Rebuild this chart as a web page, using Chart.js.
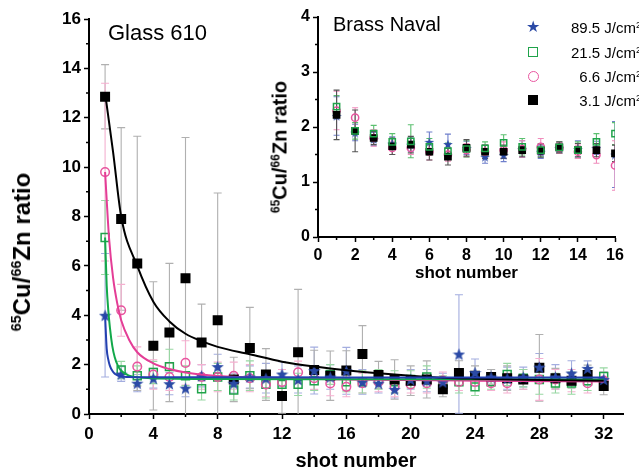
<!DOCTYPE html>
<html lang="en">
<head>
<meta charset="UTF-8">
<title>Cu/Zn ratio vs shot number</title>
<script src="https://cdn.jsdelivr.net/npm/chart.js"></script>
<style>
  body { margin: 0; background: #fff; font-family: Arial, "Liberation Sans", sans-serif; }
  #wrap { position: relative; width: 639px; height: 474px; overflow: hidden; background: #fff; }
  #mainChart, #insetChart { position: absolute; top: 0; }
  #mainChart { left: 0; }
  #insetChart { left: 290px; }
  .ytitle {
    position: absolute; font-weight: bold; white-space: nowrap; color: #000;
    transform: translate(-50%, -50%) rotate(-90deg);
  }
  .ytitle sup, .lg sup { font-size: 0.6em; line-height: 0; vertical-align: 0.6em; }
  .panel { position: absolute; white-space: nowrap; color: #000; }
  .lg { position: absolute; left: 522px; width: 119px; height: 22px; display: flex; align-items: center; font-size: 15px; }
  .lg .mk { width: 22px; display: flex; justify-content: center; align-items: center; }
  .lg .txt { flex: 1; text-align: right; white-space: nowrap; }
  .sq { width: 8px; height: 8px; border: 1.5px solid #1fa34a; }
  .ci { width: 9px; height: 9px; border: 1.5px solid #e8559f; border-radius: 50%; }
  .bk { width: 10px; height: 10px; background: #000; }
  .st { color: #2b4aa6; font-size: 16px; line-height: 1; }
</style>
</head>
<body>
<div id="wrap">
  <canvas id="mainChart" width="639" height="474"></canvas>
  <canvas id="insetChart" width="349" height="290"></canvas>
  <div class="ytitle" style="left:22px; top:252px; font-size:24px;"><sup>65</sup>Cu/<sup>66</sup>Zn ratio</div>
  <div class="ytitle" style="left:280px; top:147px; font-size:20px;"><sup>65</sup>Cu/<sup>66</sup>Zn ratio</div>
  <div class="panel" style="left:108px; top:20px; font-size:22px;">Glass 610</div>
  <div class="panel" style="left:333px; top:13px; font-size:20px;">Brass Naval</div>
  <div class="lg" style="top:16px"><span class="mk"><span class="st">&#9733;</span></span><span class="txt">89.5 J/cm<sup>2</sup></span></div>
  <div class="lg" style="top:41px"><span class="mk"><span class="sq"></span></span><span class="txt">21.5 J/cm<sup>2</sup></span></div>
  <div class="lg" style="top:65px"><span class="mk"><span class="ci"></span></span><span class="txt">6.6 J/cm<sup>2</sup></span></div>
  <div class="lg" style="top:89px"><span class="mk"><span class="bk"></span></span><span class="txt">3.1 J/cm<sup>2</sup></span></div>
</div>
<script>
// ---- Glass 610 (main panel) ----
const shots = [1, 2, 3, 4, 5, 6, 7, 8, 9, 10, 11, 12, 13, 14, 15, 16,
               17, 18, 19, 20, 21, 22, 23, 24, 25, 26, 27, 28, 29, 30, 31, 32];

const glass89 = [4.0, 1.62, 1.25, 1.45, 1.23, 1.05, 1.55, 1.92, 1.25, 1.5, 1.45, 1.62, 1.4, 1.76, 1.5, 1.75,
                 1.3, 1.25, 1.0, 1.4, 1.35, 1.3, 2.43, 1.68, 1.5, 1.45, 1.5, 1.9, 1.5, 1.66, 1.85, 1.4];
const glass89Err = [2.5, 0.3, 0.35, 0.4, 0.45, 0.35, 0.45, 0.5, 0.4, 0.45, 0.6, 0.5, 0.55, 0.95, 0.5, 0.95,
                    0.5, 0.4, 0.35, 0.4, 0.45, 0.35, 2.4, 0.55, 0.3, 0.45, 0.4, 0.55, 0.5, 0.5, 0.3, 0.3];

const glass21 = [7.15, 1.78, 1.55, 1.68, 1.92, 1.55, 1.02, 1.5, 0.97, 1.55, 1.2, 1.2, 1.2, 1.35, 1.6, 1.3,
                 1.3, 1.4, 1.3, 1.4, 1.5, 1.2, 1.3, 1.1, 1.3, 1.6, 1.45, 1.4, 1.25, 1.25, 1.35, 1.52];
const glass21Err = [1.5, 0.35, 0.4, 0.45, 0.7, 0.4, 0.45, 0.55, 0.4, 0.6, 0.55, 0.45, 0.45, 0.4, 0.4, 0.4,
                    0.45, 0.4, 0.45, 0.35, 0.45, 0.35, 0.45, 0.35, 0.3, 0.45, 0.35, 0.6, 0.4, 0.45, 0.4, 0.35];

const glass66 = [9.8, 4.2, 1.92, 1.6, 1.5, 2.07, 1.5, 1.5, 1.55, 1.45, 1.2, 1.3, 1.69, 1.45, 1.24, 1.1,
                 1.25, 1.3, 1.1, 1.2, 1.25, 1.35, 1.3, 1.3, 1.25, 1.25, 1.4, 1.4, 1.4, 1.35, 1.25, 1.35];
const glass66Err = [3.6, 1.05, 0.8, 0.6, 0.55, 0.9, 0.5, 0.6, 0.55, 0.55, 0.5, 0.5, 0.45, 0.45, 0.5, 0.4,
                    0.4, 0.4, 0.4, 0.35, 0.4, 0.35, 0.35, 0.35, 0.3, 0.4, 0.4, 0.85, 0.4, 0.45, 0.4, 0.35];

const glass31 = [12.85, 7.9, 6.1, 2.76, 3.3, 5.5, 2.9, 3.8, 1.4, 2.67, 1.6, 0.73, 2.5, 1.78, 1.55, 1.76,
                 2.43, 1.58, 1.4, 1.35, 1.4, 1.0, 1.66, 1.55, 1.5, 1.45, 1.4, 1.87, 1.45, 1.35, 1.58, 1.13];
const glass31Err = [1.3, 3.7, 5.15, 2.6, 2.8, 5.7, 1.55, 5.15, 0.9, 1.65, 1.05, 0.7, 2.55, 0.8, 1.0, 0.8,
                    1.15, 0.55, 0.8, 0.6, 0.75, 0.3, 0.5, 0.4, 0.3, 0.5, 0.4, 1.35, 0.4, 0.3, 0.4, 0.35];

// fitted decay curves, sampled along the shot axis
const fit89X = [1, 1.1, 1.2, 1.3, 1.45, 1.6, 1.8, 2, 2.5, 3, 4, 8, 16, 32];
const fit89Y = [4.0, 2.65, 2.2, 1.95, 1.75, 1.63, 1.56, 1.52, 1.5, 1.49, 1.49, 1.49, 1.48, 1.48];
const fit21X = [1, 1.1, 1.2, 1.3, 1.45, 1.6, 1.8, 2, 2.5, 3, 4, 8, 16, 32];
const fit21Y = [7.15, 5.2, 4.2, 3.5, 2.75, 2.3, 1.95, 1.75, 1.55, 1.49, 1.45, 1.42, 1.41, 1.4];
const fit66X = [1, 1.25, 1.5, 1.75, 2, 2.5, 3, 4, 5, 6, 8, 12, 16, 24, 32];
const fit66Y = [9.8, 7.1, 5.5, 4.5, 3.8, 3.0, 2.5, 2.05, 1.82, 1.68, 1.54, 1.45, 1.4, 1.35, 1.32];
const fit31X = [1, 1.5, 2, 3, 4, 5, 6, 7, 8, 10, 12, 14, 16, 18, 20, 22, 24, 28, 32];
const fit31Y = [13.0, 10.6, 8.0, 6.0, 4.55, 3.75, 3.25, 2.95, 2.72, 2.42, 2.12, 1.92, 1.77, 1.65, 1.55, 1.47, 1.43, 1.38, 1.35];

const mainXTicks = [0, 4, 8, 12, 16, 20, 24, 28, 32];
const mainXMinor = [2, 6, 10, 14, 18, 22, 26, 30];
const mainYTicks = [0, 2, 4, 6, 8, 10, 12, 14, 16];
const mainYMinor = [1, 3, 5, 7, 9, 11, 13, 15];

// ---- Brass Naval (inset) ----
const brassShots = [1, 2, 3, 4, 5, 6, 7, 8, 9, 10, 11, 12, 13, 14, 15, 16];
const brass89 = [2.2, 1.9, 1.78, 1.7, 1.68, 1.73, 1.69, 1.62, 1.46, 1.49, 1.6, 1.55, 1.62, 1.6, 1.62, 1.5];
const brass89Err = [0.35, 0.15, 0.12, 0.12, 0.12, 0.18, 0.18, 0.12, 0.12, 0.12, 0.15, 0.12, 0.1, 0.15, 0.12, 0.6];
const brass21 = [2.37, 1.93, 1.88, 1.73, 1.74, 1.64, 1.56, 1.6, 1.61, 1.71, 1.64, 1.58, 1.63, 1.58, 1.73, 1.88];
const brass21Err = [0.2, 0.15, 0.15, 0.15, 0.3, 0.15, 0.15, 0.15, 0.12, 0.15, 0.15, 0.12, 0.1, 0.15, 0.15, 0.2];
const brass66 = [2.3, 2.17, 1.8, 1.62, 1.62, 1.55, 1.5, 1.58, 1.55, 1.58, 1.6, 1.64, 1.62, 1.55, 1.49, 1.3];
const brass66Err = [0.35, 0.18, 0.15, 0.12, 0.12, 0.15, 0.12, 0.12, 0.12, 0.15, 0.15, 0.15, 0.1, 0.12, 0.15, 0.45];
const brass31 = [2.22, 1.93, 1.8, 1.65, 1.68, 1.55, 1.46, 1.62, 1.55, 1.55, 1.58, 1.57, 1.63, 1.58, 1.58, 1.52];
const brass31Err = [0.45, 0.38, 0.12, 0.15, 0.15, 0.15, 0.15, 0.15, 0.12, 0.12, 0.12, 0.12, 0.1, 0.12, 0.12, 0.15];

const insetXTicks = [0, 2, 4, 6, 8, 10, 12, 14, 16];
const insetXMinor = [1, 3, 5, 7, 9, 11, 13, 15];
const insetYTicks = [0, 1, 2, 3, 4];
const insetYMinor = [0.5, 1.5, 2.5, 3.5];

const BLUE = '#2b4aa6', GREEN = '#1fa34a', PINK = '#e8559f', BLACK = '#000';

Chart.defaults.font.family = 'Arial, "Liberation Sans", sans-serif';
Chart.defaults.color = '#000';

// filled five-point star used as point style
function makeStar(size, color) {
    const c = document.createElement('canvas');
    c.width = c.height = size;
    const g = c.getContext('2d');
    const cx = size / 2, cy = size / 2 + size * 0.06, R = size / 2, r = R * 0.42;
    g.beginPath();
    for (let i = 0; i < 10; i++) {
        const a = -Math.PI / 2 + i * Math.PI / 5;
        const rad = i % 2 ? r : R;
        g.lineTo(cx + rad * Math.cos(a), cy + rad * Math.sin(a));
    }
    g.closePath();
    g.fillStyle = color;
    g.fill();
    return c;
}

function pts(xs, ys) {
    return xs.map((x, i) => ({ x: x, y: ys[i] }));
}

// vertical error bars with caps, drawn under the markers
const errorBars = {
    id: 'errorBars',
    beforeDatasetsDraw(chart, args, opts) {
        const { ctx, chartArea } = chart;
        const xs = chart.scales.x, ys = chart.scales.y;
        ctx.save();
        ctx.beginPath();
        ctx.rect(chartArea.left, chartArea.top - 2, chartArea.width, chartArea.height + 2);
        ctx.clip();
        chart.data.datasets.forEach(ds => {
            if (!ds.errors) return;
            ctx.strokeStyle = ds.errorColor;
            ctx.lineWidth = 1.1;
            ds.data.forEach((p, j) => {
                const e = ds.errors[j];
                const x = xs.getPixelForValue(p.x);
                const top = ys.getPixelForValue(p.y + e);
                const bot = ys.getPixelForValue(p.y - e);
                ctx.beginPath();
                ctx.moveTo(x, top); ctx.lineTo(x, bot);
                ctx.moveTo(x - opts.cap, top); ctx.lineTo(x + opts.cap, top);
                ctx.moveTo(x - opts.cap, bot); ctx.lineTo(x + opts.cap, bot);
                ctx.stroke();
            });
        });
        ctx.restore();
    }
};

// short minor ticks between the labelled ones
const minorTicks = {
    id: 'minorTicks',
    afterDraw(chart, args, opts) {
        const { ctx, chartArea } = chart;
        ctx.save();
        ctx.strokeStyle = '#000';
        ctx.lineWidth = 1.5;
        ctx.beginPath();
        opts.x.forEach(v => {
            const px = chart.scales.x.getPixelForValue(v);
            ctx.moveTo(px, chartArea.bottom); ctx.lineTo(px, chartArea.bottom + opts.len);
        });
        opts.y.forEach(v => {
            const py = chart.scales.y.getPixelForValue(v);
            ctx.moveTo(chartArea.left, py); ctx.lineTo(chartArea.left - opts.len, py);
        });
        ctx.stroke();
        ctx.restore();
    }
};

function axis(min, max, ticks, size, fitKey, fitVal, pad, title) {
    return {
        type: 'linear',
        min: min,
        max: max,
        afterBuildTicks: s => { s.ticks = ticks.map(v => ({ value: v })); },
        afterFit: s => { s[fitKey] = fitVal; },
        grid: { drawOnChartArea: false, drawTicks: true, tickLength: 5, tickWidth: 1.5, tickColor: '#000' },
        border: { display: true, color: '#000', width: 2 },
        ticks: { font: { size: size, weight: 'bold' }, padding: pad, color: '#000' },
        title: title
    };
}

function markerSet(label, data, errs, errColor, style, color, radius, fill, order) {
    return {
        type: 'scatter',
        label: label,
        data: data,
        errors: errs,
        errorColor: errColor,
        pointStyle: style,
        pointRadius: radius,
        pointBorderWidth: 1.5,
        pointBorderColor: color,
        pointBackgroundColor: fill,
        order: order
    };
}

function fitLine(xs, ys, color, order) {
    return {
        type: 'line',
        data: pts(xs, ys),
        borderColor: color,
        borderWidth: 2,
        pointRadius: 0,
        cubicInterpolationMode: 'monotone',
        fill: false,
        order: order
    };
}

const mainChart = new Chart(document.getElementById('mainChart'), {
    type: 'scatter',
    data: {
        datasets: [
            fitLine(fit89X, fit89Y, '#2340b0', 0),
            fitLine(fit31X, fit31Y, BLACK, 1),
            fitLine(fit21X, fit21Y, '#12a84a', 2),
            fitLine(fit66X, fit66Y, '#e43d96', 3),
            markerSet('89.5', pts(shots, glass89), glass89Err, '#a3addf', makeStar(13, BLUE), BLUE, 6, BLUE, 4),
            markerSet('3.1', pts(shots, glass31), glass31Err, '#b0b0b0', 'rect', BLACK, 6, BLACK, 5),
            markerSet('6.6', pts(shots, glass66), glass66Err, '#f5b0d0', 'circle', PINK, 4.3, 'rgba(255,255,255,0)', 6),
            markerSet('21.5', pts(shots, glass21), glass21Err, '#98d7a3', 'rect', GREEN, 5.6, 'rgba(255,255,255,0)', 7)
        ]
    },
    options: {
        responsive: false,
        animation: false,
        devicePixelRatio: 1,
        layout: { padding: { top: 19, right: 16, left: 0, bottom: 0 } },
        scales: {
            x: axis(0, 33.2, mainXTicks, 17, 'height', 60, 5,
                { display: true, text: 'shot number', font: { size: 20, weight: 'bold' }, padding: { bottom: 1 } }),
            y: axis(0, 16, mainYTicks, 17, 'width', 89, 3, { display: false })
        },
        plugins: {
            legend: { display: false },
            tooltip: { enabled: false },
            errorBars: { cap: 4 },
            minorTicks: { x: mainXMinor, y: mainYMinor, len: 3 }
        }
    },
    plugins: [errorBars, minorTicks]
});

const insetChart = new Chart(document.getElementById('insetChart'), {
    type: 'scatter',
    data: {
        datasets: [
            markerSet('89.5', pts(brassShots, brass89), brass89Err, '#6f7fcc', makeStar(10, BLUE), BLUE, 5, BLUE, 4),
            markerSet('21.5', pts(brassShots, brass21), brass21Err, '#5cc070', 'rect', GREEN, 4.4, 'rgba(255,255,255,0)', 1),
            markerSet('6.6', pts(brassShots, brass66), brass66Err, '#f08cbc', 'circle', PINK, 3.6, 'rgba(255,255,255,0)', 3),
            markerSet('3.1', pts(brassShots, brass31), brass31Err, '#555555', 'rect', BLACK, 4.4, BLACK, 2)
        ].map(d => Object.assign(d, { clip: 0 }))
    },
    options: {
        responsive: false,
        animation: false,
        devicePixelRatio: 1,
        layout: { padding: { top: 17, right: 24, left: 0, bottom: 0 } },
        scales: {
            x: axis(0, 16, insetXTicks, 16, 'height', 53, 4,
                { display: true, text: 'shot number', font: { size: 17, weight: 'bold' }, padding: { bottom: 6 } }),
            y: axis(0, 4, insetYTicks, 16, 'width', 28, 3, { display: false })
        },
        plugins: {
            legend: { display: false },
            tooltip: { enabled: false },
            errorBars: { cap: 3 },
            minorTicks: { x: insetXMinor, y: insetYMinor, len: 3 }
        }
    },
    plugins: [errorBars, minorTicks]
});
</script>
</body>
</html>
